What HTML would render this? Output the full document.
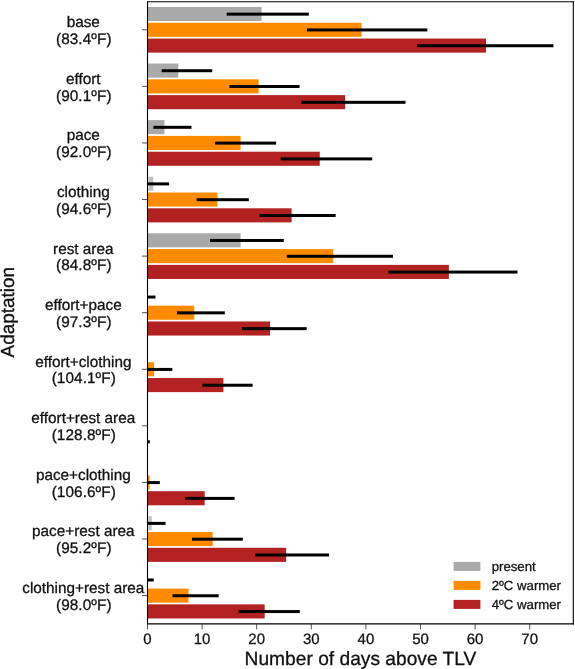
<!DOCTYPE html>
<html lang="en">
<head>
<meta charset="utf-8">
<title>Number of days above TLV by adaptation</title>
<style>
html,body{margin:0;padding:0;background:#fff;}
svg{display:block;font-family:"Liberation Sans",sans-serif;fill:#111;}
text{text-rendering:geometricPrecision;stroke:#111;stroke-width:0.3px;}
svg{will-change:transform;}
</style>
</head>
<body>
<svg width="575" height="669" viewBox="0 0 575 669">
<g id="bars">
<rect x="147.50" y="6.94" width="114.11" height="14.10" fill="#a9a9a9"/>
<rect x="147.50" y="22.74" width="214.03" height="14.10" fill="#ff8c00"/>
<rect x="147.50" y="38.54" width="338.52" height="14.10" fill="#b22222"/>
<rect x="147.50" y="63.52" width="30.79" height="14.10" fill="#a9a9a9"/>
<rect x="147.50" y="79.32" width="111.11" height="14.10" fill="#ff8c00"/>
<rect x="147.50" y="95.12" width="197.65" height="14.10" fill="#b22222"/>
<rect x="147.50" y="120.10" width="16.93" height="14.10" fill="#a9a9a9"/>
<rect x="147.50" y="135.90" width="93.09" height="14.10" fill="#ff8c00"/>
<rect x="147.50" y="151.70" width="172.26" height="14.10" fill="#b22222"/>
<rect x="148.50" y="176.69" width="4.70" height="14.10" fill="#a9a9a9" fill-opacity="0.75"/>
<rect x="147.50" y="192.49" width="69.89" height="14.10" fill="#ff8c00"/>
<rect x="147.50" y="208.29" width="144.14" height="14.10" fill="#b22222"/>
<rect x="147.50" y="233.27" width="93.09" height="14.10" fill="#a9a9a9"/>
<rect x="147.50" y="249.07" width="185.64" height="14.10" fill="#ff8c00"/>
<rect x="147.50" y="264.87" width="301.39" height="14.10" fill="#b22222"/>
<rect x="147.50" y="305.65" width="46.79" height="14.10" fill="#ff8c00"/>
<rect x="147.50" y="321.45" width="122.58" height="14.10" fill="#b22222"/>
<rect x="147.50" y="362.23" width="6.66" height="14.10" fill="#ff8c00"/>
<rect x="147.50" y="378.03" width="75.89" height="14.10" fill="#b22222"/>
<rect x="147.50" y="475.40" width="2.07" height="14.10" fill="#ff8c00"/>
<rect x="147.50" y="491.20" width="57.17" height="14.10" fill="#b22222"/>
<rect x="148.50" y="516.18" width="3.17" height="14.10" fill="#a9a9a9" fill-opacity="0.75"/>
<rect x="147.50" y="531.98" width="65.19" height="14.10" fill="#ff8c00"/>
<rect x="147.50" y="547.78" width="138.68" height="14.10" fill="#b22222"/>
<rect x="147.50" y="588.56" width="41.06" height="14.10" fill="#ff8c00"/>
<rect x="147.50" y="604.36" width="117.17" height="14.10" fill="#b22222"/>
</g>
<g id="errors" fill="#000">
<rect x="226.67" y="12.64" width="82.20" height="3.00"/>
<rect x="306.93" y="28.44" width="120.42" height="3.00"/>
<rect x="417.22" y="44.24" width="136.25" height="3.00"/>
<rect x="161.70" y="69.22" width="50.53" height="3.00"/>
<rect x="229.40" y="85.02" width="70.19" height="3.00"/>
<rect x="301.47" y="100.82" width="104.04" height="3.00"/>
<rect x="153.40" y="125.80" width="38.08" height="3.00"/>
<rect x="215.20" y="141.60" width="60.91" height="3.00"/>
<rect x="280.72" y="157.40" width="91.48" height="3.00"/>
<rect x="148.05" y="182.39" width="21.05" height="3.00"/>
<rect x="196.64" y="198.19" width="52.17" height="3.00"/>
<rect x="259.43" y="213.99" width="76.19" height="3.00"/>
<rect x="210.02" y="238.97" width="73.74" height="3.00"/>
<rect x="286.73" y="254.77" width="106.22" height="3.00"/>
<rect x="388.29" y="270.57" width="129.16" height="3.00"/>
<rect x="147.50" y="295.55" width="7.94" height="3.00"/>
<rect x="176.98" y="311.35" width="47.80" height="3.00"/>
<rect x="241.96" y="327.15" width="64.73" height="3.00"/>
<rect x="147.50" y="367.93" width="24.87" height="3.00"/>
<rect x="202.37" y="383.73" width="50.26" height="3.00"/>
<rect x="147.50" y="440.31" width="2.37" height="3.00"/>
<rect x="147.50" y="481.10" width="12.31" height="3.00"/>
<rect x="185.17" y="496.90" width="49.44" height="3.00"/>
<rect x="148.05" y="521.88" width="17.50" height="3.00"/>
<rect x="192.00" y="537.68" width="50.80" height="3.00"/>
<rect x="255.06" y="553.48" width="74.01" height="3.00"/>
<rect x="147.50" y="578.46" width="6.20" height="3.00"/>
<rect x="172.51" y="594.26" width="46.16" height="3.00"/>
<rect x="238.68" y="610.06" width="61.12" height="3.00"/>
</g>
<g id="frame" stroke="#000" stroke-width="1.1" stroke-linecap="square">
<line x1="147.5" y1="1.75" x2="573.3" y2="1.75"/>
<line x1="147.5" y1="623.9" x2="573.3" y2="623.9"/>
<line x1="147.5" y1="1.75" x2="147.5" y2="623.9"/>
<line x1="573.3" y1="1.75" x2="573.3" y2="623.9"/>
</g>
<g id="ticks" stroke="#333" stroke-width="0.85">
<line x1="142.00" y1="29.79" x2="147.50" y2="29.79"/>
<line x1="142.00" y1="86.37" x2="147.50" y2="86.37"/>
<line x1="142.00" y1="142.95" x2="147.50" y2="142.95"/>
<line x1="142.00" y1="199.54" x2="147.50" y2="199.54"/>
<line x1="142.00" y1="256.12" x2="147.50" y2="256.12"/>
<line x1="142.00" y1="312.70" x2="147.50" y2="312.70"/>
<line x1="142.00" y1="369.28" x2="147.50" y2="369.28"/>
<line x1="142.00" y1="425.86" x2="147.50" y2="425.86"/>
<line x1="142.00" y1="482.45" x2="147.50" y2="482.45"/>
<line x1="142.00" y1="539.03" x2="147.50" y2="539.03"/>
<line x1="142.00" y1="595.61" x2="147.50" y2="595.61"/>
<line x1="147.50" y1="623.90" x2="147.50" y2="629.40"/>
<line x1="202.10" y1="623.90" x2="202.10" y2="629.40"/>
<line x1="256.70" y1="623.90" x2="256.70" y2="629.40"/>
<line x1="311.30" y1="623.90" x2="311.30" y2="629.40"/>
<line x1="365.90" y1="623.90" x2="365.90" y2="629.40"/>
<line x1="420.50" y1="623.90" x2="420.50" y2="629.40"/>
<line x1="475.10" y1="623.90" x2="475.10" y2="629.40"/>
<line x1="529.70" y1="623.90" x2="529.70" y2="629.40"/>
</g>
<g id="xticklabels" font-size="15.0" text-anchor="middle">
<text x="147.50" y="644.0">0</text>
<text x="202.10" y="644.0">10</text>
<text x="256.70" y="644.0">20</text>
<text x="311.30" y="644.0">30</text>
<text x="365.90" y="644.0">40</text>
<text x="420.50" y="644.0">50</text>
<text x="475.10" y="644.0">60</text>
<text x="529.70" y="644.0">70</text>
</g>
<g id="yticklabels" font-size="15.3" text-anchor="middle">
<text x="83.30" y="27.19">base</text>
<text x="83.80" y="43.99" letter-spacing="0.1">(83.4ºF)</text>
<text x="83.30" y="83.77">effort</text>
<text x="83.80" y="100.57" letter-spacing="0.1">(90.1ºF)</text>
<text x="83.30" y="140.35">pace</text>
<text x="83.80" y="157.15" letter-spacing="0.1">(92.0ºF)</text>
<text x="83.30" y="196.94">clothing</text>
<text x="83.80" y="213.74" letter-spacing="0.1">(94.6ºF)</text>
<text x="83.30" y="253.52">rest area</text>
<text x="83.80" y="270.32" letter-spacing="0.1">(84.8ºF)</text>
<text x="83.30" y="310.10">effort+pace</text>
<text x="83.80" y="326.90" letter-spacing="0.1">(97.3ºF)</text>
<text x="83.30" y="366.68">effort+clothing</text>
<text x="83.80" y="383.48" letter-spacing="0.1">(104.1ºF)</text>
<text x="83.30" y="423.26">effort+rest area</text>
<text x="83.80" y="440.06" letter-spacing="0.1">(128.8ºF)</text>
<text x="83.30" y="479.85">pace+clothing</text>
<text x="83.80" y="496.65" letter-spacing="0.1">(106.6ºF)</text>
<text x="83.30" y="536.43">pace+rest area</text>
<text x="83.80" y="553.23" letter-spacing="0.1">(95.2ºF)</text>
<text x="83.30" y="593.01">clothing+rest area</text>
<text x="83.80" y="609.81" letter-spacing="0.1">(98.0ºF)</text>
</g>
<text x="360.5" y="664.8" font-size="19.2" text-anchor="middle">Number of days above TLV</text>
<text transform="translate(14.1,312.2) rotate(-90)" font-size="18.95" text-anchor="middle">Adaptation</text>
<g id="legend">
<rect x="453.6" y="561.90" width="26.8" height="9.0" fill="#a9a9a9"/>
<text x="491.7" y="571.10" font-size="13.2">present</text>
<rect x="453.6" y="580.90" width="26.8" height="9.0" fill="#ff8c00"/>
<text x="491.7" y="590.10" font-size="13.2">2ºC warmer</text>
<rect x="453.6" y="599.90" width="26.8" height="9.0" fill="#b22222"/>
<text x="491.7" y="609.10" font-size="13.2">4ºC warmer</text>
</g>
</svg>
</body>
</html>
